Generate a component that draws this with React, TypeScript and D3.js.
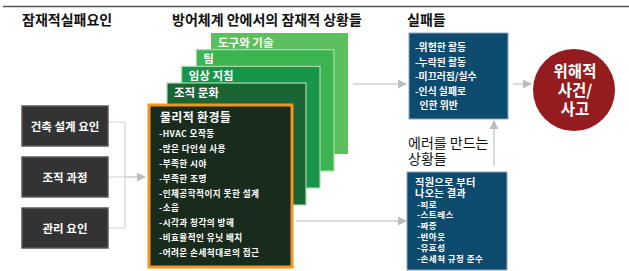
import React, { useEffect, useRef } from "react";
import * as d3 from "d3";

const headers = ["잠재적실패요인", "방어체계 안에서의 잠재적 상황들", "실패들"];
const latentFactors = ["건축 설계 요인", "조직 과정", "관리 요인"];
const defenseLayers = ["도구와 기술", "팀", "임상 지침", "조직 문화"];
const layerColors = ["#5cbf5e", "#3db452", "#17954b", "#1b6434"];
const physicalTitle = "물리적 환경들";
const physicalItems = [
  "-HVAC 오작동",
  "-많은 다인실 사용",
  "-부족한 시야",
  "-부족한 조명",
  "-인체공학적이지 못한 설계",
  "-소음",
  "-시각과 청각의 방해",
  "-비효율적인 유닛 배치",
  "-어려운 손세척대로의 접근",
];
const failureItems = ["-위험한 활동", "-누락된 활동", "-미끄러짐/실수", "-인식 실패로", "  인한 위반"];
const errorTitle = ["에러를 만드는", "상황들"];
const staffTitle = ["직원으로 부터", "나오는 결과"];
const staffItems = ["-피로", "-스트레스", "-짜증", "-번아웃", "-유효성", "-손세척 규정 준수"];
const outcomeLines = ["위해적", "사건/", "사고"];

const W = 629;
const H = 271;
const FONT = "'Noto Sans CJK KR', 'Noto Sans', sans-serif";

const App = () => {
  const svgRef = useRef<SVGSVGElement | null>(null);

  useEffect(() => {
    const svg = d3.select(svgRef.current);
    svg.selectAll("*").remove();

    svg
      .append("defs")
      .append("marker")
      .attr("id", "arr")
      .attr("viewBox", "0 0 10 10")
      .attr("refX", 9)
      .attr("refY", 5)
      .attr("markerWidth", 9)
      .attr("markerHeight", 9)
      .attr("markerUnits", "userSpaceOnUse")
      .attr("orient", "auto")
      .append("path")
      .attr("d", "M0,0L10,5L0,10Z")
      .attr("fill", "#bdbdbd");

    const txt = (
      g: any,
      x: number,
      y: number,
      s: string,
      size: number,
      fill = "#fff",
      weight = "bold",
      anchor = "start",
      spacing = 0
    ) =>
      g
        .append("text")
        .attr("x", x)
        .attr("y", y)
        .attr("dominant-baseline", "central")
        .attr("text-anchor", anchor)
        .attr("font-family", FONT)
        .attr("font-size", size)
        .attr("font-weight", weight)
        .attr("letter-spacing", spacing)
        .attr("fill", fill)
        .attr("xml:space", "preserve")
        .text(s);

    const arrow = (x1: number, y1: number, x2: number, y2: number) =>
      svg
        .append("line")
        .attr("x1", x1)
        .attr("y1", y1)
        .attr("x2", x2)
        .attr("y2", y2)
        .attr("stroke", "#cfcfcf")
        .attr("stroke-width", 1.5)
        .attr("marker-end", "url(#arr)");

    // top rule
    svg
      .append("line")
      .attr("x1", 3)
      .attr("x2", W)
      .attr("y1", 6.5)
      .attr("y2", 6.5)
      .attr("stroke", "#555")
      .attr("stroke-width", 1.5);

    // headers
    const headerX = [22, 172, 407];
    headers.forEach((h, i) => txt(svg, headerX[i], 19, h, 14, "#111", "bold"));

    // left factor boxes
    const yLeft = d3.scaleBand().domain(latentFactors).range([106, 248]).paddingInner(0.216);
    const bx0 = 22;
    const bx1 = 108;

    // bracket
    const bracket = d3.path();
    const cy0 = yLeft(latentFactors[0])! + yLeft.bandwidth() / 2 - 4;
    const cy2 = yLeft(latentFactors[2])! + yLeft.bandwidth() / 2;
    latentFactors.forEach((f, i) => {
      const cy = i === 0 ? cy0 : yLeft(f)! + yLeft.bandwidth() / 2;
      bracket.moveTo(bx1, cy);
      bracket.lineTo(125, cy);
    });
    bracket.moveTo(125, cy0);
    bracket.lineTo(125, cy2);
    svg
      .append("path")
      .attr("d", bracket.toString())
      .attr("fill", "none")
      .attr("stroke", "#d3d3d3")
      .attr("stroke-width", 1.2);
    const midY = yLeft(latentFactors[1])! + yLeft.bandwidth() / 2;
    arrow(125, midY, 145, midY);

    latentFactors.forEach((f) => {
      svg
        .append("rect")
        .attr("x", bx0)
        .attr("y", yLeft(f)!)
        .attr("width", bx1 - bx0)
        .attr("height", yLeft.bandwidth())
        .attr("fill", "#333")
        .attr("stroke", "#5a5a5a")
        .attr("stroke-width", 1.5);
      txt(svg, (bx0 + bx1) / 2, yLeft(f)! + yLeft.bandwidth() / 2, f, 11.5, "#fff", "bold", "middle");
    });

    // defense layers
    const li = d3.scaleLinear().domain([0, 3]);
    const left = li.copy().range([211, 167]);
    const top = li.copy().range([33, 83]);
    const right = li.copy().range([348, 306]);
    const bottom = li.copy().range([154, 205]);
    defenseLayers.forEach((name, i) => {
      svg
        .append("rect")
        .attr("x", left(i))
        .attr("y", top(i))
        .attr("width", right(i) - left(i))
        .attr("height", bottom(i) - top(i))
        .attr("fill", layerColors[i])
        .attr("stroke", i === 0 ? "none" : "#a9dcae")
        .attr("stroke-width", 1.2);
      txt(svg, left(i) + 7, top(i) + 8.5, name, 11.5, "#fff", "bold");
    });

    // physical environment box
    const px0 = 149;
    const py0 = 105;
    const px1 = 292;
    const py1 = 267;
    svg
      .append("rect")
      .attr("x", px0)
      .attr("y", py0)
      .attr("width", px1 - px0)
      .attr("height", py1 - py0)
      .attr("fill", "#182b1c")
      .attr("stroke", "#f7941d")
      .attr("stroke-width", 3);
    txt(svg, 160, 116, physicalTitle, 12, "#fff", "bold", "start", 0.3);
    const yPhys = d3.scaleLinear().domain([0, physicalItems.length - 1]).range([133, 252]);
    physicalItems.forEach((s, i) => txt(svg, 159, yPhys(i), s, 8.6, "#fff", "bold", "start", 0.45));

    // arrows to right column
    arrow(353, 84, 406, 84);
    arrow(296, 221, 406, 221);

    // failures box
    svg
      .append("rect")
      .attr("x", 409)
      .attr("y", 33)
      .attr("width", 99)
      .attr("height", 86)
      .attr("fill", "#0c4a6e")
      .attr("stroke", "#8aa6bb")
      .attr("stroke-width", 1);
    const yFail = d3.scaleLinear().domain([0, failureItems.length - 1]).range([47, 105]);
    failureItems.forEach((s, i) => txt(svg, 415, yFail(i), s, 9.8, "#fff", "bold"));

    // arrow to outcome
    arrow(513, 84, 531, 84);

    // outcome circle
    svg
      .append("circle")
      .attr("cx", 574)
      .attr("cy", 90)
      .attr("r", 41)
      .attr("fill", "#941c1e");
    const yOut = d3.scaleLinear().domain([0, outcomeLines.length - 1]).range([70, 108]);
    outcomeLines.forEach((s, i) => txt(svg, 575, yOut(i), s, 15.5, "#fff", "bold", "middle"));

    // error-producing conditions
    errorTitle.forEach((s, i) => txt(svg, 408, 142 + i * 16, s, 14, "#111", "normal"));
    svg
      .append("line")
      .attr("x1", 494)
      .attr("x2", 494)
      .attr("y1", 166)
      .attr("y2", 121)
      .attr("stroke", "#cfcfcf")
      .attr("stroke-width", 1.5)
      .attr("marker-end", "url(#arr)");

    svg
      .append("rect")
      .attr("x", 407)
      .attr("y", 172)
      .attr("width", 100)
      .attr("height", 98)
      .attr("fill", "#0c4a6e")
      .attr("stroke", "#8aa6bb")
      .attr("stroke-width", 1);
    staffTitle.forEach((s, i) => txt(svg, 415, 181 + i * 11.5, s, 10.2, "#fff", "bold", "start", 0.3));
    const yStaff = d3.scaleLinear().domain([0, staffItems.length - 1]).range([203.5, 257.5]);
    staffItems.forEach((s, i) => txt(svg, 417, yStaff(i), s, 8.5, "#fff", "bold", "start", 0.45));
  }, []);

  return (
    <svg
      ref={svgRef}
      width={W}
      height={H}
      style={{ position: "absolute", left: 0, top: 0, background: "#fff" }}
    />
  );
};

export default App;
